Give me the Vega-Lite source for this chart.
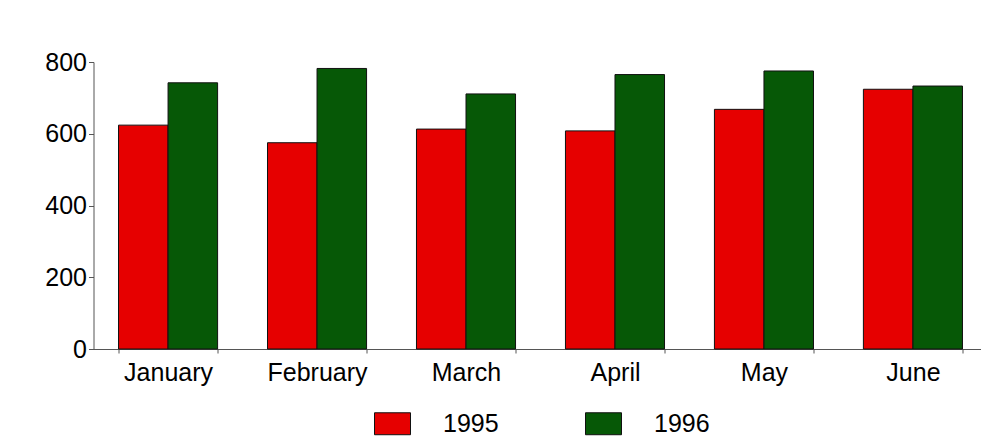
{
  "$schema": "https://vega.github.io/schema/vega-lite/v6.json",
  "autosize": "none",
  "padding": {"left": 93.5, "top": 62, "right": 0, "bottom": 88},
  "width": 887.5,
  "height": 287,
  "background": "white",
  "config": {
    "view": {"stroke": null},
    "font": "Liberation Sans",
    "axis": {"grid": false, "domainColor": "#555", "tickColor": "#555", "labelColor": "#000", "labelFont": "Liberation Sans"},
    "legend": {"padding": 0}
  },
  "data": {
    "values": [
      {"month": "January", "year": "1995", "value": 624},
      {"month": "January", "year": "1996", "value": 742},
      {"month": "February", "year": "1995", "value": 575},
      {"month": "February", "year": "1996", "value": 782},
      {"month": "March", "year": "1995", "value": 613},
      {"month": "March", "year": "1996", "value": 711},
      {"month": "April", "year": "1995", "value": 608},
      {"month": "April", "year": "1996", "value": 765},
      {"month": "May", "year": "1995", "value": 668},
      {"month": "May", "year": "1996", "value": 775},
      {"month": "June", "year": "1995", "value": 724},
      {"month": "June", "year": "1996", "value": 733}
    ]
  },
  "mark": {"type": "bar", "stroke": "#111", "strokeWidth": 1},
  "encoding": {
    "x": {
      "field": "month",
      "type": "nominal",
      "sort": ["January", "February", "March", "April", "May", "June"],
      "scale": {"range": [0, 894], "paddingInner": 0.335, "paddingOuter": 0.168},
      "axis": {"title": null, "labelAngle": 0, "labelFontSize": 25, "labelPadding": 7, "tickBand": "extent", "tickSize": 4, "domainWidth": 1.2}
    },
    "xOffset": {"field": "year", "type": "nominal"},
    "y": {
      "field": "value",
      "type": "quantitative",
      "scale": {"domain": [0, 800]},
      "axis": {"title": null, "values": [0, 200, 400, 600, 800], "labelFontSize": 25, "labelPadding": 2, "tickSize": 5, "domainWidth": 1}
    },
    "color": {
      "field": "year",
      "type": "nominal",
      "scale": {"domain": ["1995", "1996"], "range": ["#e60000", "#065806"]},
      "legend": {
        "title": null,
        "orient": "none",
        "direction": "horizontal",
        "legendX": 280.5,
        "legendY": 343,
        "symbolType": "M-1,-0.61H1V0.61H-1Z",
        "symbolSize": 1296,
        "symbolStrokeColor": "#111",
        "symbolStrokeWidth": 1,
        "symbolOpacity": 1,
        "labelFontSize": 25,
        "labelOffset": 32,
        "columnPadding": 84,
        "labelColor": "#000"
      }
    }
  }
}
